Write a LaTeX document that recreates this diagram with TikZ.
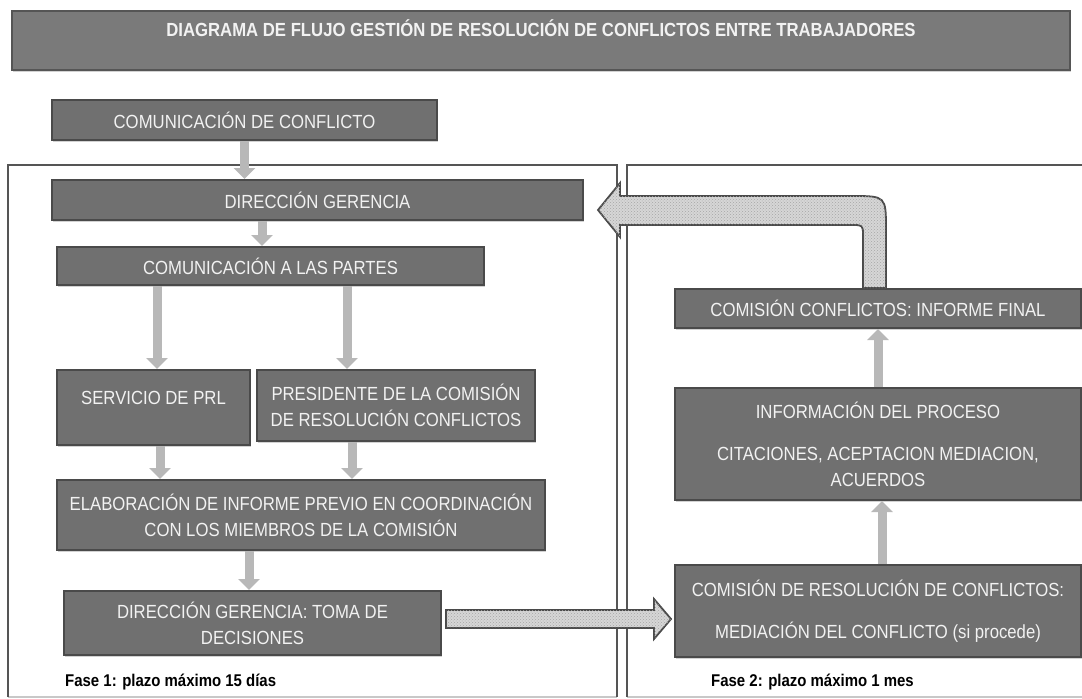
\documentclass[tikz,border=0pt]{standalone}
\usepackage{fontspec}
\setmainfont{Liberation Sans}[FakeStretch=0.88]
\usetikzlibrary{arrows.meta,calc,patterns,shadows}
\definecolor{boxfill}{HTML}{707070}
\definecolor{boxline}{HTML}{4A4A4A}
\definecolor{boxtext}{HTML}{F2F2F2}
\definecolor{arrowgray}{HTML}{B8B8B8}
\definecolor{framegray}{HTML}{555555}
\definecolor{framelight}{HTML}{C8C8C8}
\definecolor{blockfill}{HTML}{D6D6D6}
\definecolor{titlefill}{HTML}{7A7A7A}
\begin{document}
\begin{tikzpicture}[x=1pt,y=-1pt,
 box/.style={draw=boxline, line width=2pt, fill=boxfill, text=boxtext, align=center, inner sep=0pt,
   font=\fontsize{19}{26}\selectfont,
   drop shadow={shadow xshift=1pt, shadow yshift=-1.5pt, opacity=0.35}},
 flow/.style={draw=arrowgray, line width=9pt, -{Triangle[width=21pt,length=11pt]}},
 blockarrow/.style={draw=boxline, line width=1.8pt, fill=blockfill, postaction={pattern=crosshatch dots, pattern color=gray!70}},
 frame/.style={draw=framegray, line width=2pt},
 framebottom/.style={draw=framelight, line width=2pt},
 phase/.style={anchor=west, font=\bfseries\fontsize{17}{19}\selectfont, inner sep=0pt}
]
\useasboundingbox (0,0) rectangle (1082,699);
\fill[white] (0,0) rectangle (1082,699);

% frames
\draw[framebottom] (8,697) -- (617,697);
\draw[framebottom] (627,697) -- (1084,697);
\draw[frame] (8,697) -- (8,165) -- (617,165) -- (617,697);
\draw[frame] (1084,165) -- (627,165) -- (627,697);

% title
\node[box, fill=titlefill, draw=framegray, minimum width=1058pt, minimum height=59pt, text height=13pt, text depth=21pt, font=\bfseries\fontsize{19}{22}\selectfont] (title) at (541,40.5) {DIAGRAMA DE FLUJO GESTIÓN DE RESOLUCIÓN DE CONFLICTOS ENTRE TRABAJADORES};

% phase 1 boxes
\node[box, minimum width=385pt, minimum height=40pt] (cc) at (244.5,120) {COMUNICACIÓN DE CONFLICTO};
\node[box, minimum width=531pt, minimum height=40pt] (dg) at (317.5,200) {DIRECCIÓN GERENCIA};
\node[box, minimum width=427pt, minimum height=38pt] (cp) at (270.5,266) {COMUNICACIÓN A LAS PARTES};
\node[box, minimum width=193pt, minimum height=75pt, text height=14pt, text depth=20pt] (prl) at (153.5,407.5) {SERVICIO DE PRL};
\node[box, minimum width=278pt, minimum height=71pt] (pres) at (396,405.5) {PRESIDENTE DE LA COMISIÓN\\DE RESOLUCIÓN CONFLICTOS};
\node[box, minimum width=488pt, minimum height=70pt] (elab) at (301,515) {ELABORACIÓN DE INFORME PREVIO EN COORDINACIÓN\\CON LOS MIEMBROS DE LA COMISIÓN};
\node[box, minimum width=377pt, minimum height=64pt] (tom) at (252.5,623) {DIRECCIÓN GERENCIA: TOMA DE\\DECISIONES};

% phase 2 boxes
\node[box, minimum width=406pt, minimum height=39pt] (fin) at (878,308.5) {COMISIÓN CONFLICTOS: INFORME FINAL};
\node[box, minimum width=406pt, minimum height=112pt] (inf) at (878,444) {INFORMACIÓN DEL PROCESO\\[16pt]CITACIONES, ACEPTACION MEDIACION,\\ACUERDOS};
\node[box, minimum width=406pt, minimum height=92pt] (med) at (878,611) {COMISIÓN DE RESOLUCIÓN DE CONFLICTOS:\\[16pt]MEDIACIÓN DEL CONFLICTO (si procede)};

% phase labels
\node[phase] (f1) at (65,682) {Fase 1: plazo máximo 15 días};
\node[phase] (f2) at (711,682) {Fase 2: plazo máximo 1 mes};

% thin flow arrows
\draw[flow] (cc.south) -- (cc.south |- dg.north);
\draw[flow] (262,0 |- dg.south) -- (262,0 |- cp.north);
\draw[flow] (157,0 |- cp.south) -- (157,0 |- prl.north);
\draw[flow] (347,0 |- cp.south) -- (347,0 |- pres.north);
\draw[flow] (160,0 |- prl.south) -- (160,0 |- elab.north);
\draw[flow] (352,0 |- pres.south) -- (352,0 |- elab.north);
\draw[flow] (249,0 |- elab.south) -- (249,0 |- tom.north);
\draw[flow] (882,0 |- med.north) -- (882,0 |- inf.south);
\draw[flow] (878,0 |- inf.north) -- (878,0 |- fin.south);

% block arrow: decisions -> mediation
\coordinate (hs) at ($(tom.east)+(4,-4)$);
\coordinate (ht) at ($(med.west)+(-3,8)$);
\path[blockarrow] ($(hs)+(0,-9)$) -- ($(ht)+(-17,-9)$) -- ($(ht)+(-17,-20)$) -- (ht)
  -- ($(ht)+(-17,20)$) -- ($(ht)+(-17,9)$) -- ($(hs)+(0,9)$) -- cycle;

% block arrow: final report -> direccion gerencia
\coordinate (cb) at ($(fin.north)+(-3.5,0)$);
\coordinate (ct) at ($(dg.east)+(14,10)$);
\path[blockarrow] let \p1=(cb), \p2=(ct) in
  (\x1-11.5pt,\y1) -- (\x1-11.5pt,\y2-26pt)
  .. controls (\x1-11.5pt,\y2-15pt) .. (\x1-22.5pt,\y2-15pt)
  -- (\x2+22pt,\y2-15pt) -- (\x2+22pt,\y2-27pt) -- (\x2,\y2)
  -- (\x2+22pt,\y2+27pt) -- (\x2+22pt,\y2+14pt) -- (\x1-22.5pt,\y2+14pt)
  .. controls (\x1+11.5pt,\y2+14pt) .. (\x1+11.5pt,\y2-20pt)
  -- (\x1+11.5pt,\y1) -- cycle;
\end{tikzpicture}
\end{document}
